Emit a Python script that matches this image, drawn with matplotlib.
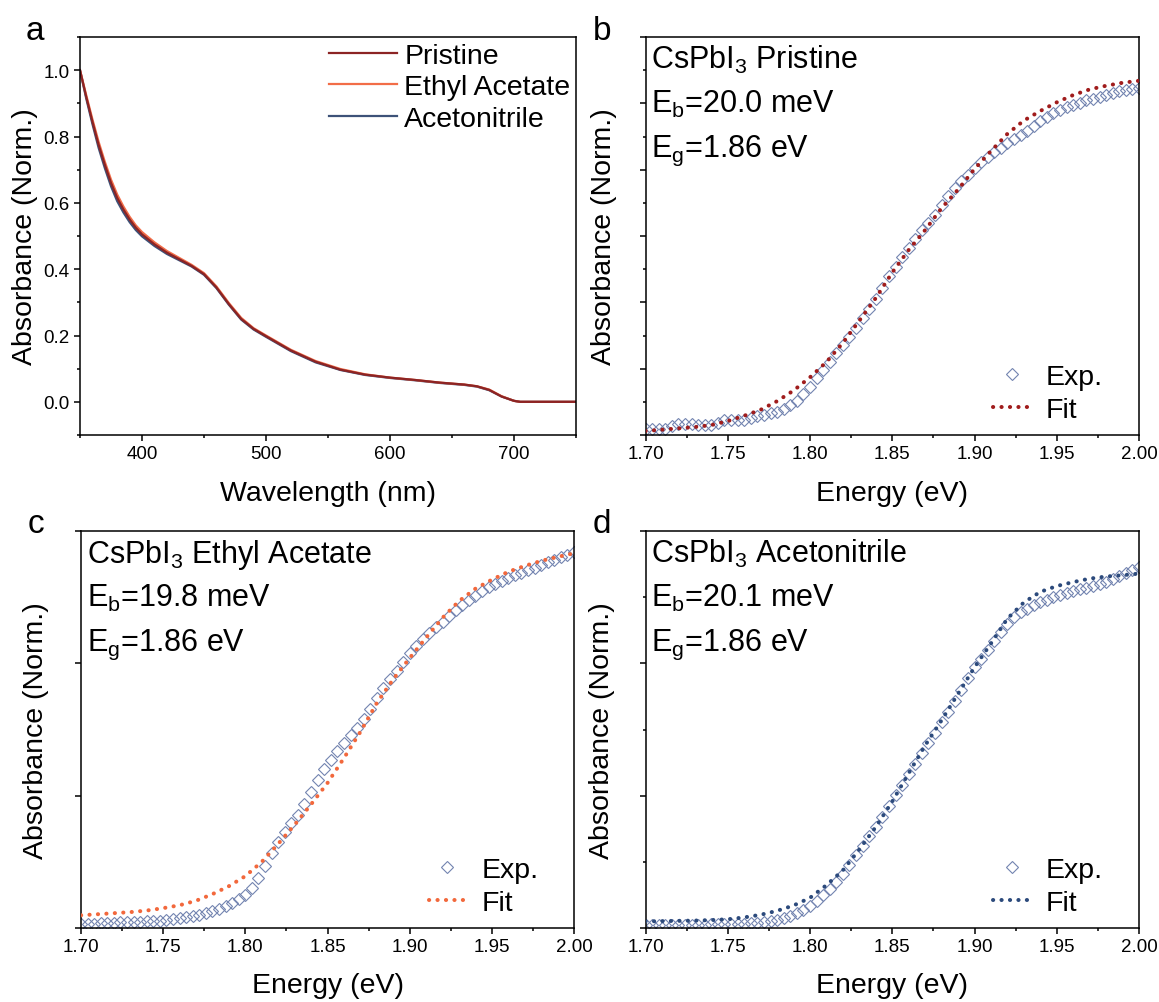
import numpy as np
import matplotlib
matplotlib.use('Agg')
import matplotlib.pyplot as plt
from matplotlib.ticker import MultipleLocator, NullFormatter, NullLocator

plt.rcParams['font.family'] = ['Liberation Sans', 'DejaVu Sans']
plt.rcParams['mathtext.fontset'] = 'custom'
plt.rcParams['mathtext.rm'] = 'Liberation Sans'
plt.rcParams['mathtext.it'] = 'Liberation Sans:italic'
plt.rcParams['mathtext.bf'] = 'Liberation Sans:bold'

# panel a: normalized absorbance spectra
wavelength = [350, 355, 360, 365, 370, 375, 380, 385, 390, 395, 400, 410, 420, 430, 440,
              450, 460, 470, 480, 490, 500, 520, 540, 560, 580, 600, 620, 640, 660, 670,
              680, 690, 700, 705, 750]
abs_pristine = [1.0, 0.92, 0.845, 0.775, 0.715, 0.66, 0.615, 0.58, 0.55, 0.525, 0.505, 0.475,
                0.45, 0.43, 0.41, 0.385, 0.345, 0.295, 0.25, 0.22, 0.198, 0.155, 0.121, 0.097,
                0.082, 0.073, 0.066, 0.058, 0.052, 0.047, 0.036, 0.016, 0.003, 0.0, 0.0]
abs_ethyl = [1.0, 0.925, 0.852, 0.784, 0.724, 0.670, 0.625, 0.589, 0.558, 0.532, 0.512, 0.481,
             0.455, 0.434, 0.413, 0.388, 0.348, 0.298, 0.253, 0.222, 0.200, 0.157, 0.123, 0.099,
             0.083, 0.073, 0.066, 0.058, 0.052, 0.047, 0.037, 0.017, 0.003, 0.0, 0.0]
abs_aceto = [1.0, 0.915, 0.838, 0.766, 0.705, 0.650, 0.605, 0.571, 0.542, 0.518, 0.499, 0.470,
             0.446, 0.427, 0.408, 0.383, 0.343, 0.293, 0.248, 0.218, 0.196, 0.153, 0.119, 0.096,
             0.081, 0.072, 0.065, 0.057, 0.051, 0.046, 0.035, 0.016, 0.003, 0.0, 0.0]

# panels b-d: absorption edge, measured every 0.004 eV, fit every 0.01 eV (1.70 - 2.00 eV)
exp_pristine = [0.017, 0.017, 0.018, 0.018, 0.028, 0.032, 0.032, 0.032, 0.031, 0.030,
                0.031, 0.036, 0.044, 0.045, 0.045, 0.046, 0.050, 0.056, 0.060, 0.066,
                0.070, 0.078, 0.090, 0.104, 0.124, 0.146, 0.172, 0.196, 0.220, 0.247,
                0.270, 0.296, 0.323, 0.352, 0.381, 0.411, 0.444, 0.478, 0.508, 0.537,
                0.565, 0.592, 0.619, 0.640, 0.663, 0.692, 0.720, 0.745, 0.765, 0.785,
                0.805, 0.822, 0.838, 0.852, 0.866, 0.880, 0.892, 0.905, 0.918, 0.932,
                0.946, 0.958, 0.970, 0.980, 0.988, 0.995, 1.002, 1.009, 1.014, 1.019,
                1.024, 1.030, 1.036, 1.040, 1.044, 1.047]
fit_pristine = [0.012, 0.016, 0.020, 0.024, 0.030, 0.042, 0.058, 0.076, 0.102, 0.134,
                0.174, 0.220, 0.278, 0.345, 0.413, 0.490, 0.558, 0.618, 0.684, 0.740,
                0.802, 0.856, 0.908, 0.948, 0.977, 1.003, 1.025, 1.042, 1.053, 1.062, 1.068]

exp_ethyl = [0.016, 0.017, 0.017, 0.018, 0.019, 0.020, 0.021, 0.022, 0.023, 0.024,
             0.025, 0.026, 0.028, 0.030, 0.033, 0.037, 0.041, 0.046, 0.051, 0.057,
             0.064, 0.072, 0.083, 0.096, 0.110, 0.125, 0.150, 0.190, 0.235, 0.282,
             0.325, 0.362, 0.395, 0.428, 0.468, 0.512, 0.558, 0.600, 0.636, 0.668,
             0.700, 0.728, 0.757, 0.790, 0.828, 0.870, 0.908, 0.940, 0.972, 1.005,
             1.038, 1.066, 1.093, 1.116, 1.136, 1.155, 1.179, 1.203, 1.222, 1.240,
             1.256, 1.272, 1.287, 1.299, 1.311, 1.322, 1.332, 1.343, 1.353, 1.362,
             1.372, 1.381, 1.390, 1.400, 1.410, 1.420]
fit_ethyl = [0.048, 0.052, 0.056, 0.060, 0.066, 0.075, 0.086, 0.103, 0.128, 0.158,
             0.196, 0.250, 0.318, 0.390, 0.467, 0.548, 0.642, 0.741, 0.850, 0.940,
             1.020, 1.097, 1.172, 1.235, 1.282, 1.316, 1.346, 1.368, 1.387, 1.402, 1.416]

exp_aceto = [0.010, 0.010, 0.011, 0.011, 0.012, 0.012, 0.013, 0.013, 0.013, 0.013,
             0.014, 0.014, 0.014, 0.014, 0.015, 0.016, 0.018, 0.020, 0.023, 0.027,
             0.032, 0.038, 0.045, 0.055, 0.068, 0.084, 0.103, 0.123, 0.148, 0.174,
             0.205, 0.239, 0.274, 0.311, 0.347, 0.383, 0.419, 0.461, 0.503, 0.541,
             0.582, 0.621, 0.660, 0.699, 0.738, 0.778, 0.817, 0.856, 0.900, 0.945,
             0.985, 1.018, 1.051, 1.085, 1.118, 1.148, 1.175, 1.193, 1.207, 1.219,
             1.230, 1.240, 1.249, 1.257, 1.265, 1.274, 1.280, 1.286, 1.292, 1.300,
             1.309, 1.319, 1.330, 1.341, 1.352, 1.364]
fit_aceto = [0.025, 0.026, 0.027, 0.028, 0.030, 0.033, 0.040, 0.050, 0.065, 0.085,
             0.114, 0.162, 0.218, 0.297, 0.382, 0.478, 0.585, 0.690, 0.785, 0.885,
             0.985, 1.075, 1.169, 1.230, 1.270, 1.292, 1.307, 1.320, 1.328, 1.333, 1.339]

labels_a = ['Pristine', 'Ethyl Acetate', 'Acetonitrile']
names = ['Pristine', 'Ethyl Acetate', 'Acetonitrile']
eb_values = ['20.0', '19.8', '20.1']
eg_values = ['1.86', '1.86', '1.86']

colors = {'Pristine': '#8c2424', 'Ethyl Acetate': '#f26d48', 'Acetonitrile': '#3d5278'}
fit_colors = {'Pristine': '#a01c1c', 'Ethyl Acetate': '#f2683c', 'Acetonitrile': '#2c4a7c'}
exp_color = '#7384b0'

W, H = 1159, 1003


def px_axes(fig, left, top, right, bottom):
    return fig.add_axes([left / W, 1 - bottom / H, (right - left) / W, (bottom - top) / H])


def style_axes(ax):
    for sp in ax.spines.values():
        sp.set_linewidth(1.1)
    ax.tick_params(which='both', direction='out', top=False, right=False, width=1.1,
                   labelsize=13.5, pad=3)
    ax.tick_params(which='major', length=4.5)
    ax.tick_params(which='minor', length=2.5)


def plot_edge(ax, exp_vals, fit_vals, name, eb, eg):
    e_exp = np.linspace(1.70, 2.00, len(exp_vals))
    e_fit = np.linspace(1.70, 2.00, len(fit_vals))
    ax.plot(e_exp, exp_vals, linestyle='none', marker='D', markersize=5.8,
            markerfacecolor='none', markeredgecolor=exp_color, markeredgewidth=0.8,
            label='Exp.', zorder=2)
    ax.plot(e_fit, fit_vals, color=fit_colors[name], linewidth=2.9,
            linestyle=(0, (0.05, 2.05)), dash_capstyle='round', label='Fit', zorder=3)
    ax.set_xlim(1.70, 2.00)
    ax.set_xticks([1.70, 1.75, 1.80, 1.85, 1.90, 1.95, 2.00])
    ax.set_xticklabels(['1.70', '1.75', '1.80', '1.85', '1.90', '1.95', '2.00'])
    ax.xaxis.set_minor_locator(MultipleLocator(0.025))
    style_axes(ax)
    ax.yaxis.set_major_formatter(NullFormatter())
    ax.set_xlabel('Energy (eV)', fontsize=20.5)
    ax.set_ylabel('Absorbance (Norm.)', fontsize=20.5)
    ax.xaxis.set_label_coords(0.5, -0.112)

    ax.text(0.012, 0.922, '$\\mathregular{CsPbI_3}$ ' + name, transform=ax.transAxes,
            fontsize=22, va='baseline', ha='left')
    ax.text(0.012, 0.811, '$\\mathregular{E_b}$=' + eb + ' meV', transform=ax.transAxes,
            fontsize=22, va='baseline', ha='left')
    ax.text(0.012, 0.700, '$\\mathregular{E_g}$=' + eg + ' eV', transform=ax.transAxes,
            fontsize=22, va='baseline', ha='left')
    ax.legend(loc='lower left', bbox_to_anchor=(0.705, 0.03), frameon=False, fontsize=20.5,
              handlelength=1.3, handletextpad=0.55, numpoints=1, labelspacing=0.25,
              borderpad=0, borderaxespad=0)


fig = plt.figure(figsize=(W / 100, H / 100), dpi=100)

ax_a = px_axes(fig, 80, 38, 576, 436)
ax_b = px_axes(fig, 645.5, 38, 1139, 436)
ax_c = px_axes(fig, 81, 532, 574, 929)
ax_d = px_axes(fig, 645.5, 532, 1139, 929)

# panel a
l_ac, = ax_a.plot(wavelength, abs_aceto, color=colors['Acetonitrile'], linewidth=1.6)
l_et, = ax_a.plot(wavelength, abs_ethyl, color=colors['Ethyl Acetate'], linewidth=1.6)
l_pr, = ax_a.plot(wavelength, abs_pristine, color=colors['Pristine'], linewidth=1.6)
ax_a.set_xlim(350, 750)
ax_a.set_ylim(-0.1, 1.1)
ax_a.set_xticks([400, 500, 600, 700])
ax_a.xaxis.set_minor_locator(MultipleLocator(50))
ax_a.set_yticks([0.0, 0.2, 0.4, 0.6, 0.8, 1.0])
ax_a.set_yticklabels(['0.0', '0.2', '0.4', '0.6', '0.8', '1.0'])
ax_a.yaxis.set_minor_locator(MultipleLocator(0.1))
style_axes(ax_a)
ax_a.set_xlabel('Wavelength (nm)', fontsize=20.5)
ax_a.set_ylabel('Absorbance (Norm.)', fontsize=20.5)
ax_a.xaxis.set_label_coords(0.5, -0.112)
ax_a.yaxis.set_label_coords(-0.085, 0.5)
ax_a.legend([l_pr, l_et, l_ac], labels_a, loc='upper right', bbox_to_anchor=(1.0, 1.0),
            frameon=False, fontsize=20.5, handlelength=2.4, handletextpad=0.25,
            labelspacing=0.2, borderpad=0.1, borderaxespad=0.1)

# panels b-d
plot_edge(ax_b, exp_pristine, fit_pristine, names[0], eb_values[0], eg_values[0])
ax_b.set_ylim(0, 1.2)
ax_b.yaxis.set_major_locator(MultipleLocator(0.2))
ax_b.yaxis.set_minor_locator(MultipleLocator(0.1))
ax_b.yaxis.set_label_coords(-0.058, 0.5)

plot_edge(ax_c, exp_ethyl, fit_ethyl, names[1], eb_values[1], eg_values[1])
ax_c.set_ylim(0, 1.5)
ax_c.yaxis.set_major_locator(MultipleLocator(0.5))
ax_c.yaxis.set_minor_locator(NullLocator())
ax_c.yaxis.set_label_coords(-0.065, 0.5)

plot_edge(ax_d, exp_aceto, fit_aceto, names[2], eb_values[2], eg_values[2])
ax_d.set_ylim(0, 1.5)
ax_d.yaxis.set_major_locator(MultipleLocator(0.5))
ax_d.yaxis.set_minor_locator(MultipleLocator(0.25))
ax_d.yaxis.set_label_coords(-0.062, 0.5)

# panel letters
for letter, x, y in [('a', 26, 40), ('b', 593, 40), ('c', 28, 533), ('d', 593, 533)]:
    fig.text(x / W, 1 - y / H, letter, fontsize=24, va='baseline', ha='left')

fig.savefig('out.png', dpi=100)
